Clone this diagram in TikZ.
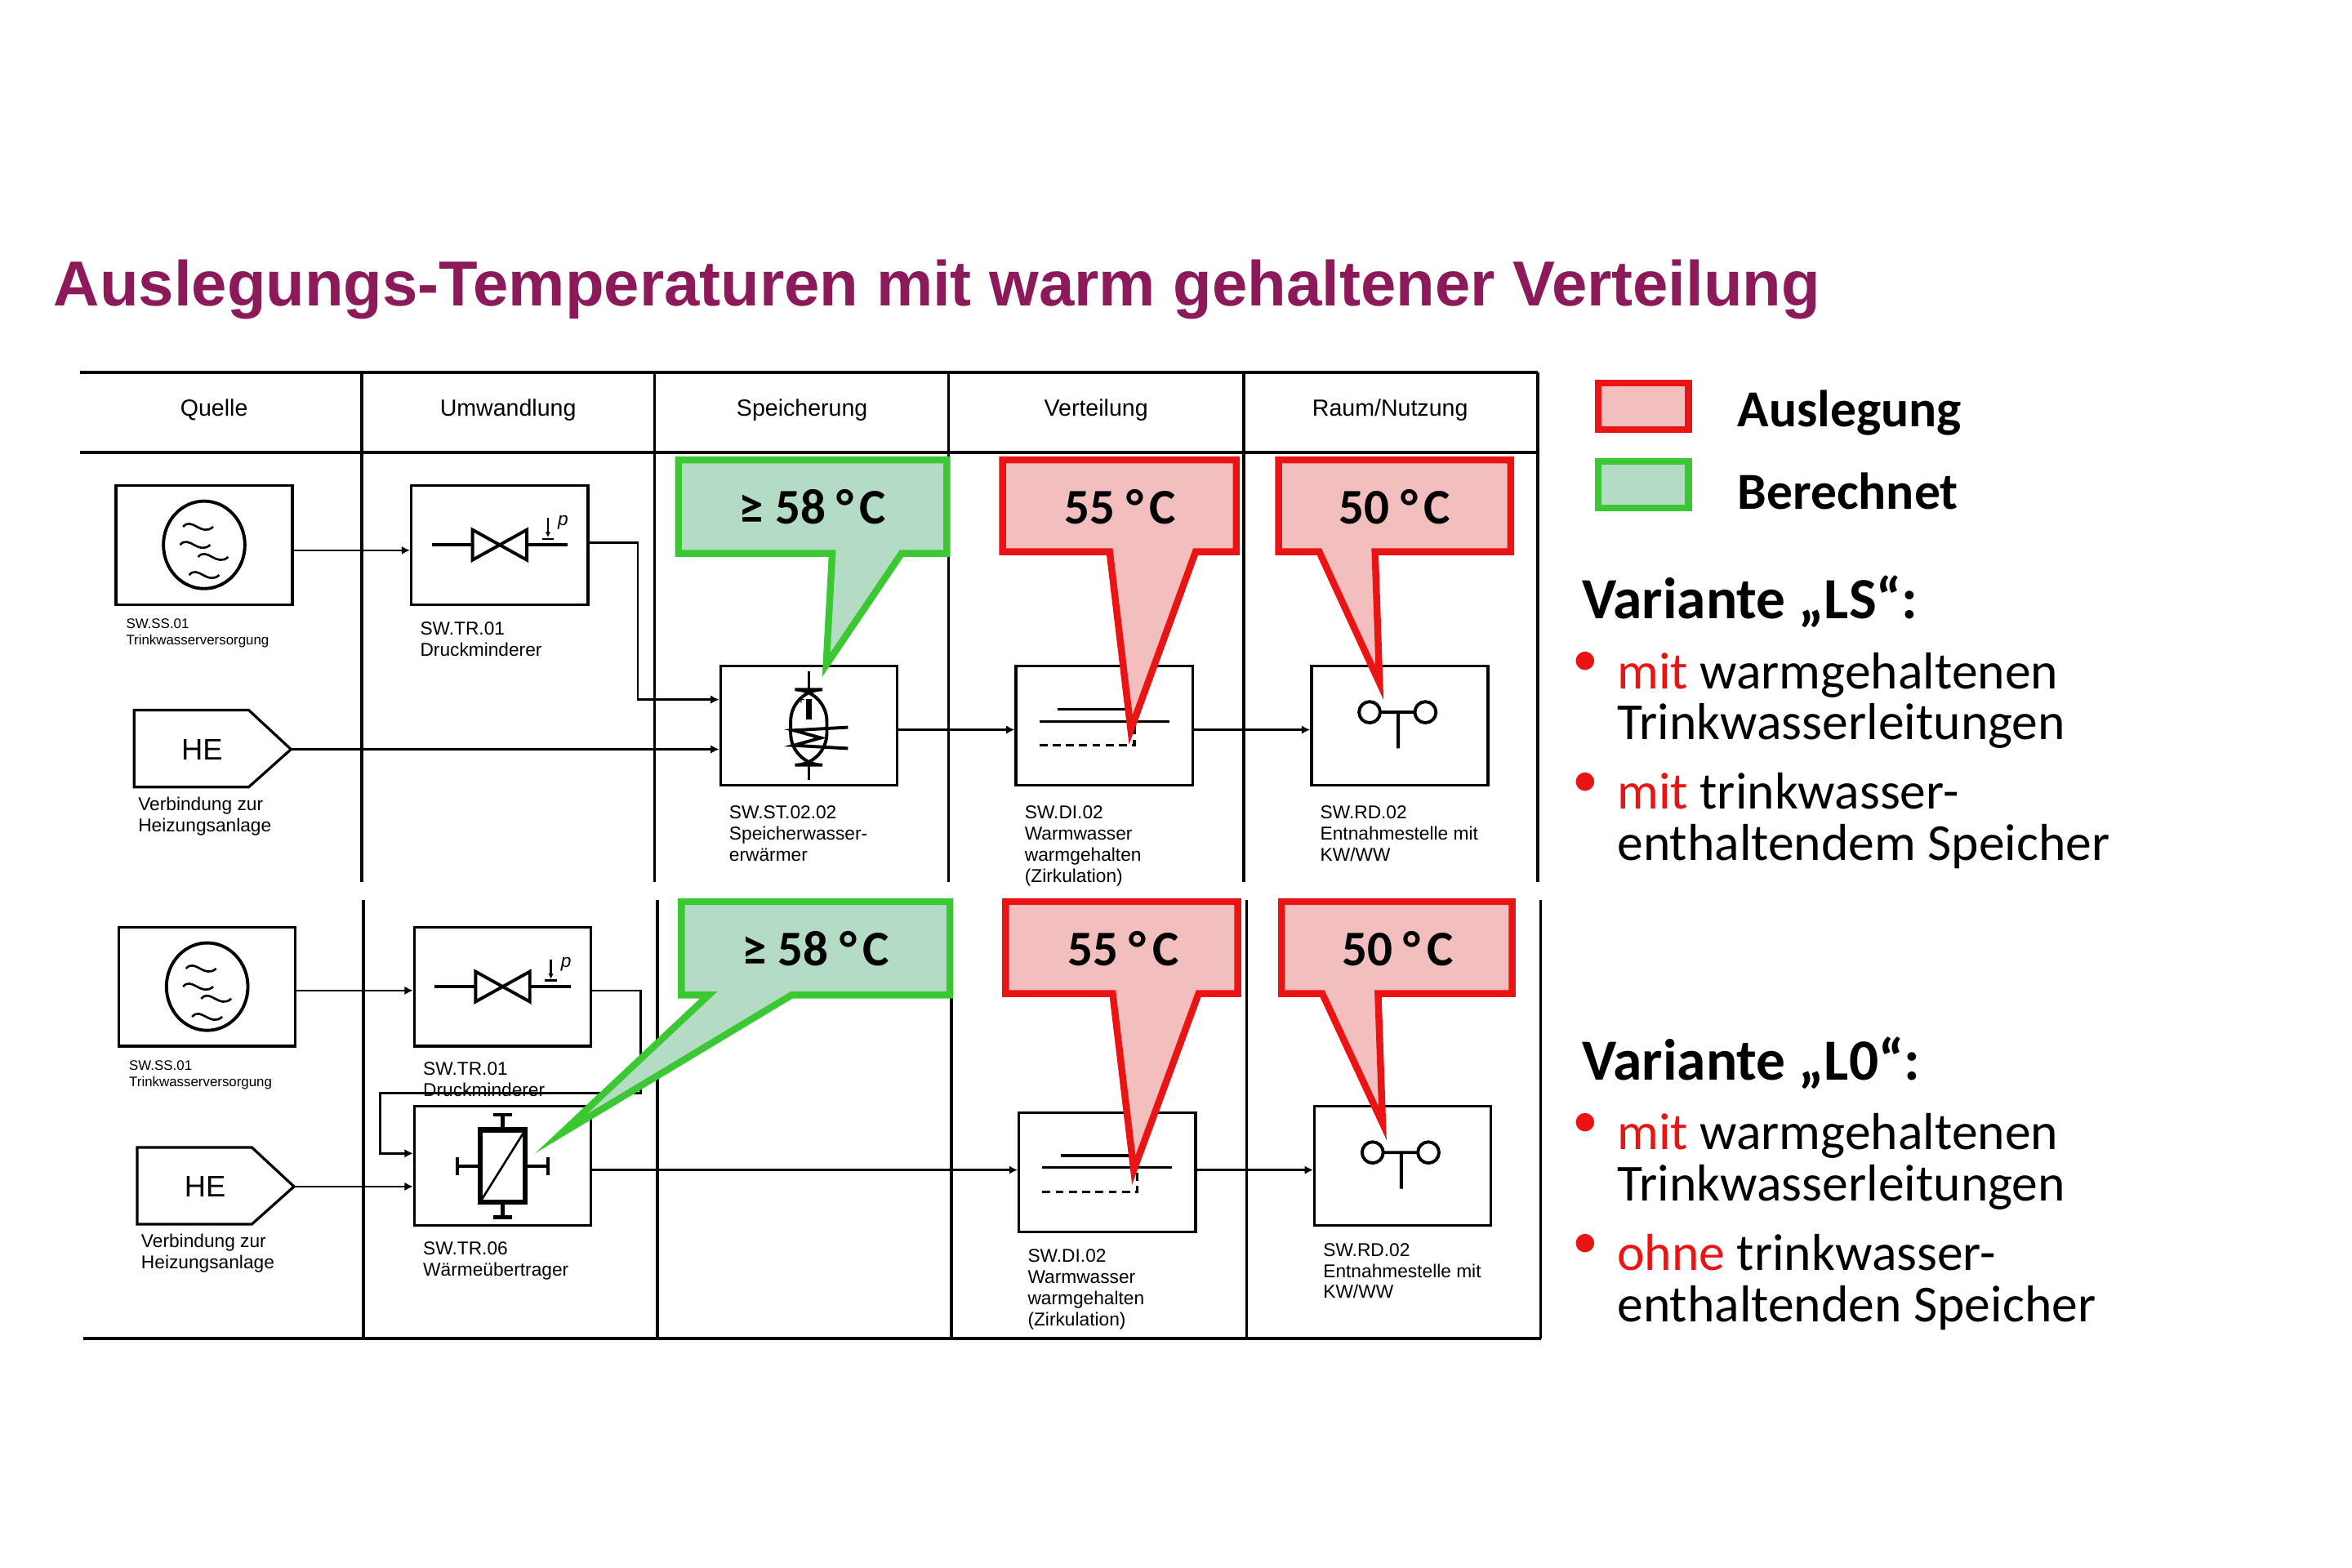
\documentclass[tikz,border=0pt]{standalone}
\usepackage{fontspec}
\setmainfont{Liberation Sans}
\newfontfamily\carl{Carlito}
\usetikzlibrary{positioning,arrows.meta}
\definecolor{titlecol}{RGB}{140,26,90}
\definecolor{pinkfill}{RGB}{242,190,190}
\definecolor{greenfill}{RGB}{180,220,196}
\definecolor{redline}{RGB}{235,20,20}
\definecolor{greenline}{RGB}{60,200,50}
\tikzset{
  box/.style={draw, line width=0.5pt, anchor=north west, minimum width=1.17cm, minimum height=0.79cm, inner sep=0pt},
  lbl/.style={anchor=north west, align=left, font=\fontsize{3.5}{4}\selectfont, inner sep=0pt},
  tiny/.style={anchor=north west, align=left, font=\fontsize{2.6}{3}\selectfont, inner sep=0pt},
  head/.style={font=\fontsize{4.4}{5}\selectfont},
  flow/.style={-{Latex[length=1.6pt,width=1.6pt]}, line width=0.4pt},
  red call/.style={draw=redline, fill=pinkfill, line width=1.3pt, line join=miter},
  green call/.style={draw=greenline, fill=greenfill, line width=1.3pt, line join=miter},
  calltxt/.style={font=\carl\bfseries\fontsize{9.4}{10}\selectfont},
  legtxt/.style={anchor=west, font=\carl\bfseries\fontsize{9.8}{10}\selectfont},
  var/.style={anchor=west, font=\carl\bfseries\fontsize{11}{12}\selectfont},
  bul/.style={anchor=north west, align=left, font=\carl\fontsize{9.8}{9.7}\selectfont, inner sep=0pt},
  he/.style={draw, line width=0.5pt}
}
\newcommand{\degC}{°\kern0.12em C}
\newcommand{\valve}[1]{%
  \draw[line width=0.6pt] ([shift={(-45,0)}]#1.center) -- ([shift={(-18,0)}]#1.center)
    ([shift={(18,0)}]#1.center) -- ([shift={(45,0)}]#1.center);
  \draw[line width=0.6pt] ([shift={(-18,-10)}]#1.center) -- ([shift={(18,10)}]#1.center) -- ([shift={(18,-10)}]#1.center) -- ([shift={(-18,10)}]#1.center) -- cycle;
  \draw[line width=0.4pt,-{Latex[length=1pt,width=1pt]}] ([shift={(32,-18)}]#1.center) -- ([shift={(32,-5)}]#1.center);
  \draw[line width=0.4pt] ([shift={(28,-4)}]#1.center) -- ([shift={(36,-4)}]#1.center);
  \node[font=\itshape\fontsize{3.5}{4}\selectfont] at ([shift={(42,-15)}]#1.center) {p};}
\newcommand{\source}[1]{%
  \draw[line width=0.6pt] (#1.center) ellipse (0.27cm and 0.29cm);
  \foreach \dy/\dx in {-12/-4,0/-6,8/6,20/0}
    \draw[line width=0.4pt] ([shift={(\dx-10,\dy)}]#1.center) .. controls ([shift={(\dx-4,\dy-7)}]#1.center) and ([shift={(\dx+2,\dy+7)}]#1.center) .. ([shift={(\dx+10,\dy)}]#1.center);}
\newcommand{\distr}[1]{%
  \draw[line width=0.5pt,-{Latex[length=1.4pt,width=1.4pt]}] ([shift={(-31,-11)}]#1.center) -- ([shift={(20,-11)}]#1.center);
  \draw[line width=0.5pt] ([shift={(-43,-3)}]#1.center) -- ([shift={(43,-3)}]#1.center);
  \draw[line width=0.5pt, dash pattern=on 1.5pt off 1pt] ([shift={(-43,13)}]#1.center) -- ([shift={(20,13)}]#1.center) -- ([shift={(20,-3)}]#1.center);}
\newcommand{\tap}[1]{%
  \draw[line width=0.6pt] ([shift={(-20,-9)}]#1.center) circle (0.07cm) ([shift={(17,-9)}]#1.center) circle (0.07cm)
    ([shift={(-13,-9)}]#1.center) -- ([shift={(10,-9)}]#1.center)
    ([shift={(-1,-9)}]#1.center) -- ([shift={(-1,15)}]#1.center);}
\begin{document}
\begin{tikzpicture}[x=0.01cm,y=-0.01cm]
\useasboundingbox[fill=white] (0,0) rectangle (1560,1040);
% title
\node[anchor=west, text=titlecol, font=\bfseries\fontsize{12}{12}\selectfont, inner sep=0pt] (title) at (35,192) {Auslegungs-Temperaturen mit warm gehaltener Verteilung};
% table
\draw[line width=0.6pt] (53,247) -- (1020,247) (53,300) -- (1020,300) (55,888) -- (1022,888);
\foreach \x in {240,434,629,825,1020} \draw[line width=0.5pt] (\x,247) -- (\x,585);
\foreach \x in {241,436,631,827,1022} \draw[line width=0.5pt] (\x,597) -- (\x,888);
\foreach \x/\t in {142/Quelle,337/Umwandlung,532/Speicherung,727/Verteilung,922/{Raum/Nutzung}}
  \node[head] at (\x,272) {\t};

% ---- upper variant
\node[box] (ssA) at (76,321) {};
\node[box] (trA) at (272,321) {};
\node[box] (stA) at (477,441) {};
\node[box] (diA) at (673,441) {};
\node[box] (rdA) at (869,441) {};
\draw[he] (89,471) coordinate (heA) -- (165,471) -- (193,497) coordinate (heAtip) -- (165,522) -- (89,522) -- cycle;
\node[font=\fontsize{5.6}{6}\selectfont] at (134,497) {HE};
\source{ssA} \valve{trA} \distr{diA} \tap{rdA}
% storage symbol
\draw[line width=0.6pt, rounded corners=6pt] ([shift={(-12,-24)}]stA.center) rectangle ([shift={(12,26)}]stA.center);
\draw[line width=0.5pt] ([shift={(0,-36)}]stA.center) -- ([shift={(0,-24)}]stA.center) ([shift={(0,26)}]stA.center) -- ([shift={(0,36)}]stA.center);
\draw[line width=1pt] ([shift={(0,-18)}]stA.center) -- ([shift={(0,-4)}]stA.center);
\node[font=\fontsize{2.5}{3}\selectfont] at ([shift={(-5,-17)}]stA.center) {+};
\draw[line width=0.6pt] ([shift={(26,1)}]stA.center) -- ([shift={(-10,3)}]stA.center) -- ([shift={(8,8)}]stA.center) -- ([shift={(-10,13)}]stA.center) -- ([shift={(26,15)}]stA.center);
\node[tiny] at ([shift={(7,8)}]ssA.south west) {SW.SS.01\\Trinkwasserversorgung};
\node[lbl] at ([shift={(6,10)}]trA.south west) {SW.TR.01\\Druckminderer};
\node[lbl] at ([shift={(6,12)}]stA.south west) {SW.ST.02.02\\Speicherwasser-\\erwärmer};
\node[lbl] at ([shift={(6,12)}]diA.south west) {SW.DI.02\\Warmwasser\\warmgehalten\\(Zirkulation)};
\node[lbl] at ([shift={(6,12)}]rdA.south west) {SW.RD.02\\Entnahmestelle mit\\KW/WW};
\node[lbl] at (91,528) {Verbindung zur\\Heizungsanlage};
\draw[flow] (ssA.east |- 0,365) -- (trA.west |- 0,365);
\draw[flow] (trA.east |- 0,360) -| (423,464) -- (stA.west |- 0,464);
\draw[flow] (heAtip) -- (stA.west |- heAtip);
\draw[flow] (stA.east |- 0,484) -- (diA.west |- 0,484);
\draw[flow] (diA.east |- 0,484) -- (rdA.west |- 0,484);
% callouts upper
\coordinate (tipG1) at (548,441);
\coordinate (tipR1) at (750,484);
\coordinate (tipR2) at (915,453);
\draw[green call] (450,305) -- (628,305) -- (628,367) -- (598,367) -- (tipG1) -- (552,367) -- (450,367) -- cycle;
\draw[red call] (665,305) -- (820,305) -- (820,366) -- (793,366) -- (tipR1) -- (736,366) -- (665,366) -- cycle;
\draw[red call] (848,305) -- (1002,305) -- (1002,366) -- (912,366) -- (tipR2) -- (875,366) -- (848,366) -- cycle;
\node[calltxt] at (539,336) {≥ 58 \degC};
\node[calltxt] at (743,336) {55 \degC};
\node[calltxt] at (925,336) {50 \degC};

% ---- lower variant
\node[box] (ssB) at (78,614) {};
\node[box] (trB) at (274,614) {};
\node[box] (wtB) at (274,733) {};
\node[box] (diB) at (675,737) {};
\node[box] (rdB) at (871,733) {};
\draw[he] (91,761) coordinate (heB) -- (167,761) -- (195,787) coordinate (heBtip) -- (167,812) -- (91,812) -- cycle;
\node[font=\fontsize{5.6}{6}\selectfont] at (136,787) {HE};
\source{ssB} \valve{trB} \distr{diB} \tap{rdB}
% heat exchanger symbol
\draw[line width=1pt] ([shift={(-15,-24)}]wtB.center) rectangle ([shift={(15,24)}]wtB.center);
\draw[line width=0.4pt] ([shift={(-15,24)}]wtB.center) -- ([shift={(15,-24)}]wtB.center);
\draw[line width=0.7pt] ([shift={(0,-24)}]wtB.center) -- ([shift={(0,-34)}]wtB.center) ([shift={(-6,-34)}]wtB.center) -- ([shift={(6,-34)}]wtB.center)
  ([shift={(0,24)}]wtB.center) -- ([shift={(0,34)}]wtB.center) ([shift={(-6,34)}]wtB.center) -- ([shift={(6,34)}]wtB.center)
  ([shift={(-15,0)}]wtB.center) -- ([shift={(-30,0)}]wtB.center) ([shift={(-30,-6)}]wtB.center) -- ([shift={(-30,6)}]wtB.center)
  ([shift={(15,0)}]wtB.center) -- ([shift={(30,0)}]wtB.center) ([shift={(30,-6)}]wtB.center) -- ([shift={(30,6)}]wtB.center);
\node[tiny] at ([shift={(7,8)}]ssB.south west) {SW.SS.01\\Trinkwasserversorgung};
\node[lbl] at ([shift={(6,9)}]trB.south west) {SW.TR.01\\Druckminderer};
\node[lbl] at ([shift={(6,9)}]wtB.south west) {SW.TR.06\\Wärmeübertrager};
\node[lbl] at ([shift={(6,10)}]diB.south west) {SW.DI.02\\Warmwasser\\warmgehalten\\(Zirkulation)};
\node[lbl] at ([shift={(6,10)}]rdB.south west) {SW.RD.02\\Entnahmestelle mit\\KW/WW};
\node[lbl] at (93,818) {Verbindung zur\\Heizungsanlage};
\draw[flow] (ssB.east |- 0,657) -- (trB.west |- 0,657);
\draw[flow] (trB.east |- 0,657) -| (425,725) -| (252,765) -- (wtB.west |- 0,765);
\draw[flow] (heBtip) -- (wtB.west |- heBtip);
\draw[flow] (wtB.east |- 0,776) -- (diB.west |- 0,776);
\draw[flow] (diB.east |- 0,776) -- (rdB.west |- 0,776);
% callouts lower
\coordinate (tipG2) at (372,752);
\coordinate (tipR3) at (752,776);
\coordinate (tipR4) at (917,745);
\draw[green call] (452,598) -- (630,598) -- (630,660) -- (525,660) -- (tipG2) -- (470,660) -- (452,660) -- cycle;
\draw[red call] (667,598) -- (821,598) -- (821,659) -- (795,659) -- (tipR3) -- (738,659) -- (667,659) -- cycle;
\draw[red call] (850,598) -- (1003,598) -- (1003,659) -- (914,659) -- (tipR4) -- (877,659) -- (850,659) -- cycle;
\node[calltxt] at (541,629) {≥ 58 \degC};
\node[calltxt] at (745,629) {55 \degC};
\node[calltxt] at (927,629) {50 \degC};

% ---- legend
\draw[red call] (1060,254) rectangle (1120,285);
\draw[green call] (1060,306) rectangle (1120,337);
\node[legtxt] at (1140,274) {Auslegung};
\node[legtxt] at (1140,326) {Berechnet};
\node[var] (varLS) at (1037,399) {Variante „LS“:};
\node[var] (varLO) at (1037,705) {Variante „L0“:};
\foreach \y/\a/\b/\c in {432/mit/warmgehaltenen/Trinkwasserleitungen,512/mit/trinkwasser-/enthaltendem Speicher,738/mit/warmgehaltenen/Trinkwasserleitungen,818/ohne/trinkwasser-/enthaltenden Speicher}{
  \node[bul, text=redline] at (1042,\y) {•};
  \node[bul] at (1072,\y) {\textcolor{redline}{\a} \b\\\c};}
\end{tikzpicture}
\end{document}
